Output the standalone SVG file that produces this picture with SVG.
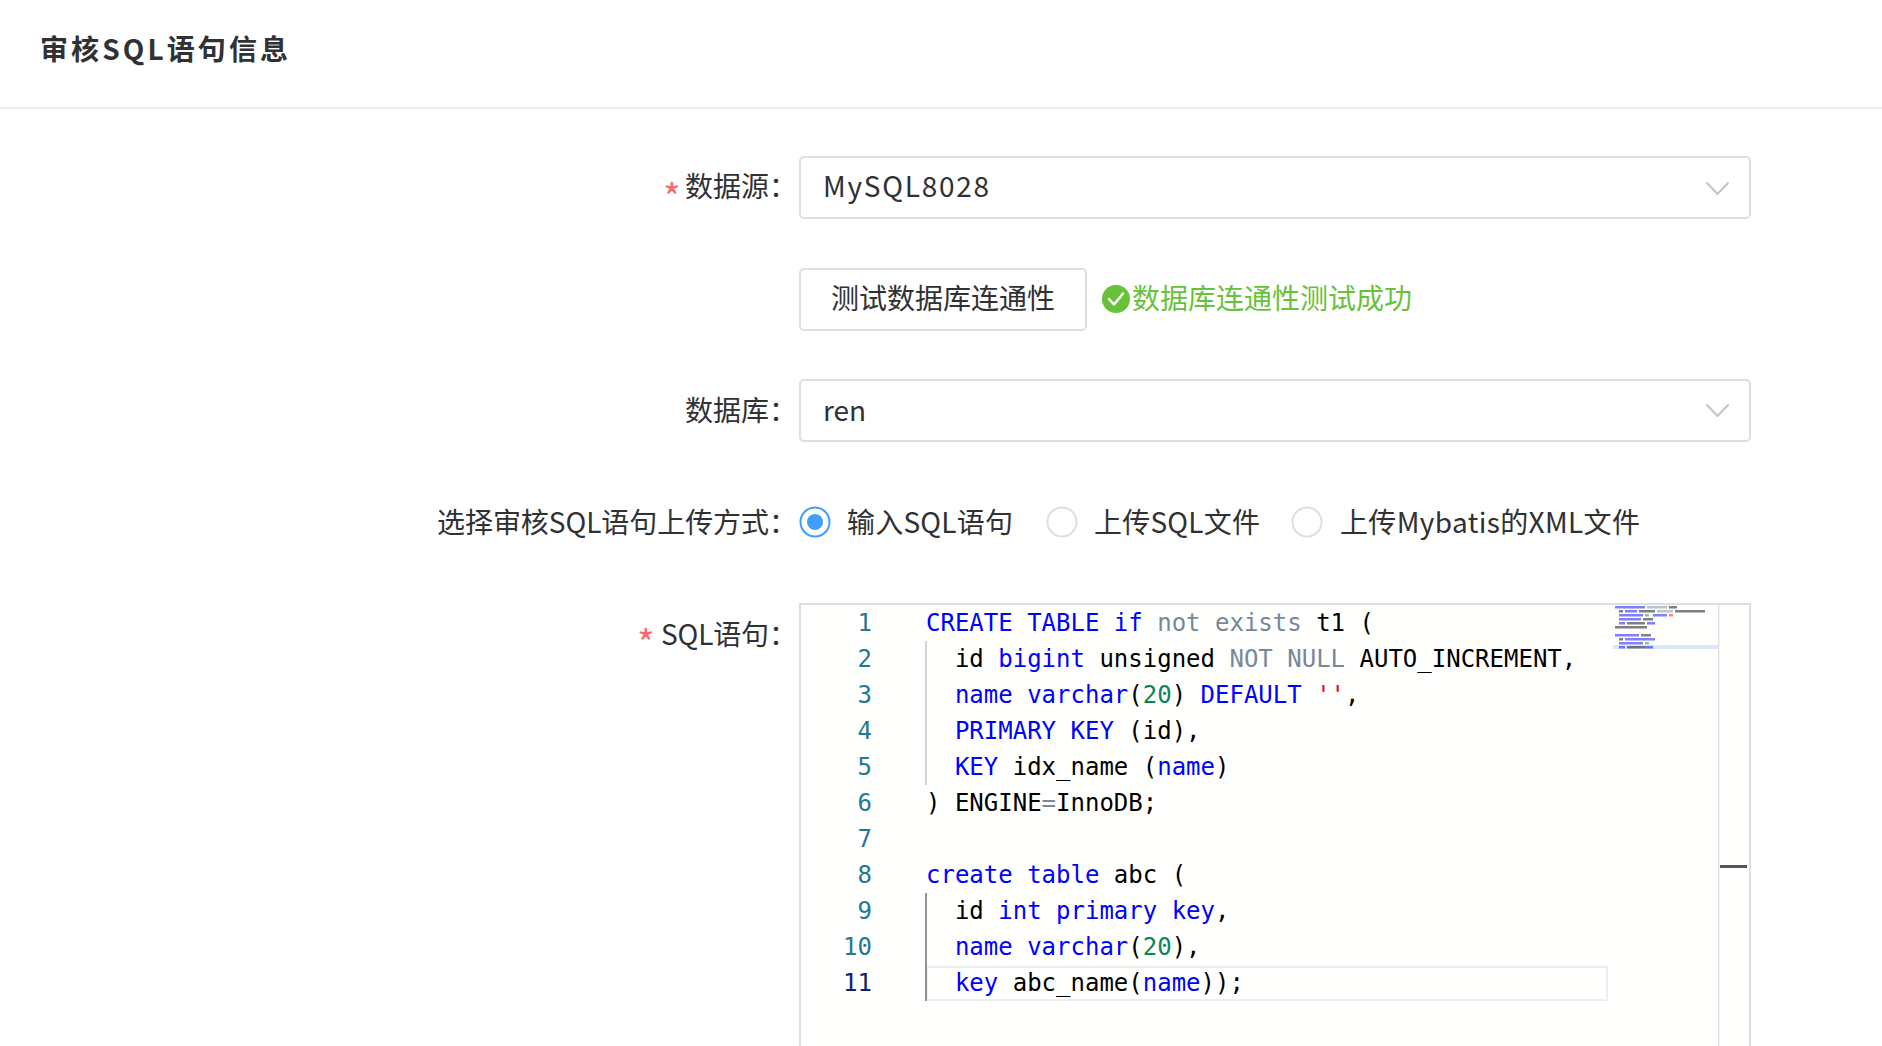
<svg xmlns="http://www.w3.org/2000/svg" width="1882" height="1046" viewBox="0 0 1882 1046">
<style>
.ui{font-family:"Noto Sans CJK SC","Noto Sans",sans-serif;font-size:28px;fill:#303133}
.title{font-weight:bold}
.req{font-family:"Noto Sans CJK SC","Noto Sans",sans-serif;font-size:38px;fill:#f56c6c}
.ok{fill:#67c23a}
.box{fill:#ffffff;stroke:#dcdfe6;stroke-width:2}
.chev{fill:none;stroke:#c0c4cc;stroke-width:2;stroke-linecap:round;stroke-linejoin:round}
.code{font-family:"DejaVu Sans Mono","Liberation Mono",monospace;font-size:24px;fill:#000000}
.ln{font-family:"DejaVu Sans Mono","Liberation Mono",monospace;font-size:24px;fill:#237893;text-anchor:end}
.k{fill:#0000ff}.o{fill:#778899}.n{fill:#098658}.s{fill:#ff0000}
.mk{fill:#0000ff;opacity:.5}.mo{fill:#778899;opacity:.5}.mn{fill:#098658;opacity:.5}.ms{fill:#ff0000;opacity:.5}.mb{fill:#000000;opacity:.5}
</style>
<rect x="0" y="0" width="1882" height="1046" fill="#ffffff"/>

<g id="header">
<text class="ui title" x="40" y="60" textLength="248" lengthAdjust="spacing">审核SQL语句信息</text>
<rect x="0" y="107" width="1882" height="2" fill="#ebebeb"/>
</g>

<g id="field-datasource">
<text class="req" x="663" y="212">*</text>
<text class="ui" x="797" y="197" text-anchor="end">数据源：</text>
<rect class="box" x="800" y="157" width="950" height="61" rx="4"/>
<text class="ui" x="823" y="197" textLength="166" lengthAdjust="spacing">MySQL8028</text>
<polyline class="chev" points="1707,183 1717.5,194 1728,183"/>
</g>

<g id="test-connection">
<rect class="box" x="800" y="269" width="286" height="61" rx="4"/>
<text class="ui" x="943" y="309" text-anchor="middle">测试数据库连通性</text>
<circle class="ok" cx="1116" cy="299" r="14"/>
<polyline points="1109,299 1114,304.5 1123,293.5" fill="none" stroke="#ffffff" stroke-width="2.5" stroke-linecap="round" stroke-linejoin="round"/>
<text class="ui ok" x="1132" y="309">数据库连通性测试成功</text>
</g>

<g id="field-database">
<text class="ui" x="797" y="421" text-anchor="end">数据库：</text>
<rect class="box" x="800" y="380" width="950" height="61" rx="4"/>
<text class="ui" x="823" y="421">ren</text>
<polyline class="chev" points="1707,405 1717.5,416 1728,405"/>
</g>

<g id="field-upload-mode">
<text class="ui" x="437" y="533" textLength="360" lengthAdjust="spacing">选择审核SQL语句上传方式：</text>
<circle cx="815" cy="522" r="14.5" fill="#ffffff" stroke="#409eff" stroke-width="2"/>
<circle cx="815" cy="522" r="8" fill="#409eff"/>
<text class="ui" x="847" y="533" textLength="166" lengthAdjust="spacing">输入SQL语句</text>
<circle cx="1062" cy="522" r="14.5" fill="#ffffff" stroke="#dcdfe6" stroke-width="2"/>
<text class="ui" x="1094" y="533" textLength="166" lengthAdjust="spacing">上传SQL文件</text>
<circle cx="1307" cy="522" r="14.5" fill="#ffffff" stroke="#dcdfe6" stroke-width="2"/>
<text class="ui" x="1340" y="533" textLength="300" lengthAdjust="spacing">上传Mybatis的XML文件</text>
</g>

<g id="field-sql">
<text class="req" x="637" y="658">*</text>
<text class="ui" x="661" y="645" textLength="136" lengthAdjust="spacing">SQL语句：</text>
</g>

<g id="editor">
<rect x="800" y="604" width="950" height="470" fill="#fffffe" stroke="#dcdfe6" stroke-width="2"/>
<rect x="927" y="967" width="680" height="33" fill="none" stroke="#eeeeee" stroke-width="2"/>
<rect x="925" y="641" width="2" height="144" fill="#d3d3d3"/>
<rect x="925" y="893" width="2" height="108" fill="#939393"/>

<g id="line-numbers">
<text class="ln" x="872" y="631">1</text>
<text class="ln" x="872" y="667">2</text>
<text class="ln" x="872" y="703">3</text>
<text class="ln" x="872" y="739">4</text>
<text class="ln" x="872" y="775">5</text>
<text class="ln" x="872" y="811">6</text>
<text class="ln" x="872" y="847">7</text>
<text class="ln" x="872" y="883">8</text>
<text class="ln" x="872" y="919">9</text>
<text class="ln" x="872" y="955">10</text>
<text class="ln" x="872" y="991" style="fill:#0b216f">11</text>
</g>

<g id="code">
<text class="code" x="926" y="631" xml:space="preserve"><tspan class="k">CREATE TABLE if</tspan> <tspan class="o">not exists</tspan> t1 (</text>
<text class="code" x="926" y="667" xml:space="preserve">  id <tspan class="k">bigint</tspan> unsigned <tspan class="o">NOT NULL</tspan> AUTO_INCREMENT,</text>
<text class="code" x="926" y="703" xml:space="preserve">  <tspan class="k">name varchar</tspan>(<tspan class="n">20</tspan>) <tspan class="k">DEFAULT</tspan> <tspan class="s">''</tspan>,</text>
<text class="code" x="926" y="739" xml:space="preserve">  <tspan class="k">PRIMARY KEY</tspan> (id),</text>
<text class="code" x="926" y="775" xml:space="preserve">  <tspan class="k">KEY</tspan> idx_name (<tspan class="k">name</tspan>)</text>
<text class="code" x="926" y="811" xml:space="preserve">) ENGINE<tspan class="o">=</tspan>InnoDB;</text>
<text class="code" x="926" y="883" xml:space="preserve"><tspan class="k">create table</tspan> abc (</text>
<text class="code" x="926" y="919" xml:space="preserve">  id <tspan class="k">int primary key</tspan>,</text>
<text class="code" x="926" y="955" xml:space="preserve">  <tspan class="k">name varchar</tspan>(<tspan class="n">20</tspan>),</text>
<text class="code" x="926" y="991" xml:space="preserve">  <tspan class="k">key</tspan> abc_name(<tspan class="k">name</tspan>));</text>
</g>

<g id="minimap">
<rect x="1613" y="645" width="106" height="4" fill="#dbe7f9"/>
<rect class="mk" x="1615" y="606" width="30" height="2.5"/>
<rect class="mo" x="1647" y="606" width="20" height="2.5"/>
<rect class="mb" x="1669" y="606" width="8" height="2.5"/>
<rect class="mb" x="1619" y="610" width="4" height="2.5"/>
<rect class="mk" x="1625" y="610" width="12" height="2.5"/>
<rect class="mb" x="1639" y="610" width="16" height="2.5"/>
<rect class="mo" x="1657" y="610" width="16" height="2.5"/>
<rect class="mb" x="1675" y="610" width="30" height="2.5"/>
<rect class="mk" x="1619" y="614" width="24" height="2.5"/>
<rect class="mn" x="1645" y="614" width="4" height="2.5"/>
<rect class="mk" x="1653" y="614" width="14" height="2.5"/>
<rect class="ms" x="1669" y="614" width="4" height="2.5"/>
<rect class="mk" x="1619" y="618" width="22" height="2.5"/>
<rect class="mb" x="1643" y="618" width="10" height="2.5"/>
<rect class="mk" x="1619" y="622" width="6" height="2.5"/>
<rect class="mb" x="1627" y="622" width="18" height="2.5"/>
<rect class="mk" x="1647" y="622" width="8" height="2.5"/>
<rect class="mb" x="1615" y="626" width="32" height="2.5"/>
<rect class="mk" x="1615" y="634" width="24" height="2.5"/>
<rect class="mb" x="1641" y="634" width="10" height="2.5"/>
<rect class="mb" x="1619" y="638" width="4" height="2.5"/>
<rect class="mk" x="1625" y="638" width="30" height="2.5"/>
<rect class="mk" x="1619" y="642" width="24" height="2.5"/>
<rect class="mn" x="1645" y="642" width="4" height="2.5"/>
<rect class="mk" x="1619" y="646" width="6" height="2.5"/>
<rect class="mb" x="1627" y="646" width="18" height="2.5"/>
<rect class="mk" x="1645" y="646" width="8" height="2.5"/>
</g>

<g id="scrollbar">
<rect x="1718" y="605" width="1.5" height="441" fill="#e3e3e3"/>
<rect x="1720" y="865" width="27" height="3" fill="#555555"/>
</g>
</g>
</svg>
